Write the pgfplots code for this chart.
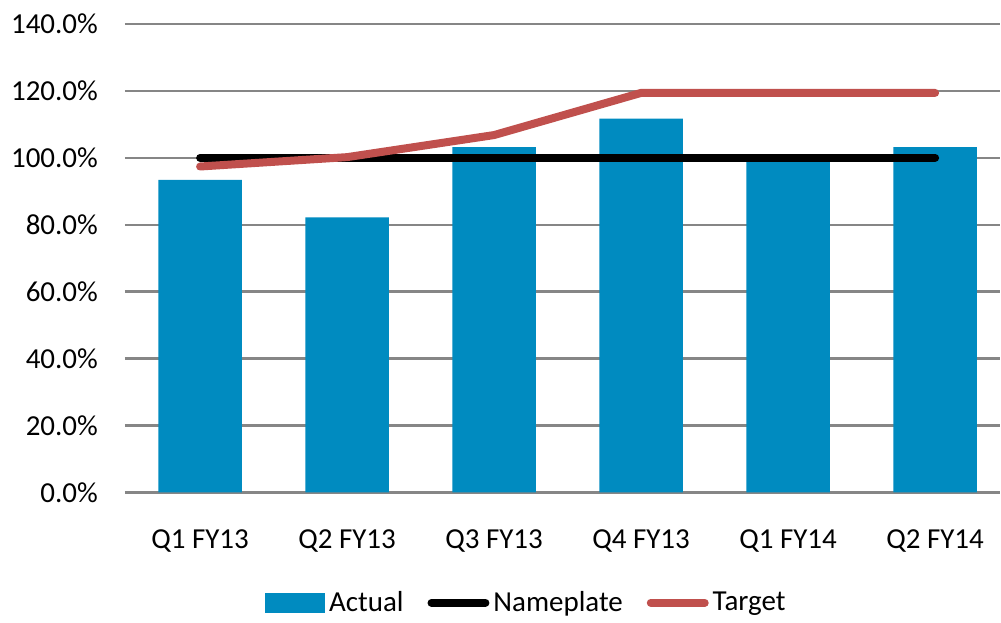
\documentclass[border=0pt]{standalone}
\usepackage{fontspec}
\setmainfont{Carlito}
\usepackage{pgfplots}
\pgfplotsset{compat=1.18}
\definecolor{barblue}{RGB}{0,139,192}
\definecolor{tgtred}{RGB}{192,80,77}
\definecolor{gridgray}{RGB}{134,134,134}
\begin{document}
\begin{tikzpicture}
\begin{axis}[
  scale only axis, width=438pt, height=234.5pt,
  xmin=-0.512, xmax=5.44, ymin=0, ymax=140,
  xtick=data, xticklabels={Q1 FY13,Q2 FY13,Q3 FY13,Q4 FY13,Q1 FY14,Q2 FY14},
  ytick={0,20,...,140},
  yticklabel={\pgfmathprintnumber[fixed,fixed zerofill,precision=1]{\tick}\%},
  /pgf/number format/assume math mode=true,
  ymajorgrids, grid style={gridgray, line width=1.2pt},
  axis line style={draw=none}, major tick length=0pt,
  tick label style={font=\fontsize{14.5}{17}\selectfont},
  yticklabel style={xshift=-10pt},
  xticklabel style={yshift=-15pt},
  legend style={draw=none, at={(0.46,-0.193)}, anchor=north, legend columns=3,
    font=\fontsize{14.5}{17}\selectfont, /tikz/every even column/.append style={column sep=10pt}},
  legend cell align=left,
  clip=false,
]
\addplot[ybar, bar width=41.75pt, fill=barblue, draw=none, area legend,
  legend image code/.code={\fill[barblue] (0pt,-5pt) rectangle (30pt,5pt);}]
  coordinates {(0,93.4) (1,82.2) (2,103.2) (3,111.7) (4,100.1) (5,103.2)};
\addlegendentry{Actual}
\addplot[black, line width=4pt, line cap=round,
  legend image code/.code={\draw[black, line width=4pt, line cap=round] (0pt,0pt) -- (27pt,0pt);}]
  coordinates {(0,100) (1,100) (2,100) (3,100) (4,100) (5,100)};
\addlegendentry{Nameplate}
\addplot[tgtred, line width=4pt, line cap=round, line join=round,
  legend image code/.code={\draw[tgtred, line width=4pt, line cap=round] (0pt,0pt) -- (27pt,0pt);}]
  coordinates {(0,97.4) (1,100.2) (2,106.8) (3,119.4) (4,119.4) (5,119.4)};
\addlegendentry{Target}
\end{axis}
\path[use as bounding box] ([shift={(-62.5pt,-60.5pt)}]current axis.south west) rectangle ([shift={(0pt,12pt)}]current axis.north east);
\end{tikzpicture}
\end{document}
